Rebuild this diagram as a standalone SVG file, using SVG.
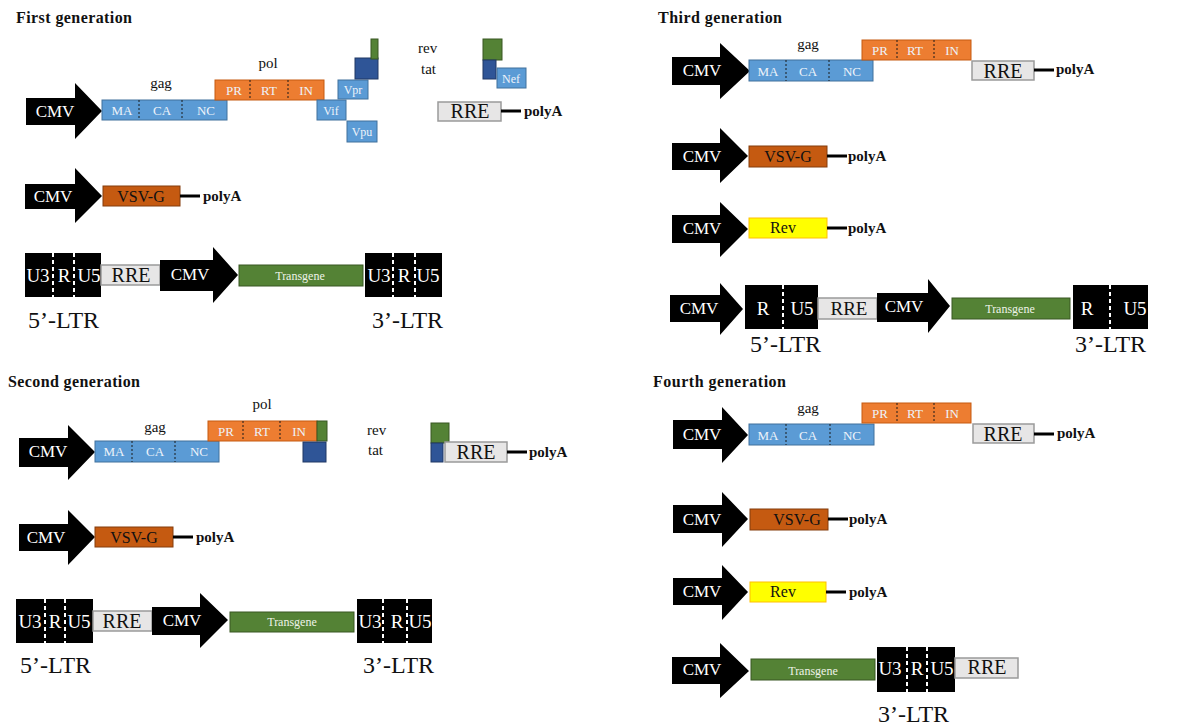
<svg xmlns="http://www.w3.org/2000/svg" width="1180" height="725" viewBox="0 0 1180 725">
<style>
text{font-family:"Liberation Serif","Times New Roman",serif}
.title{font-size:16px;font-weight:bold;fill:#111}
.lbl{font-size:15px;fill:#111}
.pa{font-size:15px;font-weight:bold;fill:#111}
.cmv{font-size:17px;fill:#fff;text-anchor:middle}
.sm{font-size:13px;fill:#eef3fa;text-anchor:middle}
.xs{font-size:12px;fill:#eef3fa;text-anchor:middle}
.ltrt{font-size:19px;fill:#fff;text-anchor:middle}
.rret{font-size:20px;fill:#111;text-anchor:middle}
.tgt{font-size:12px;fill:#eef3e8;text-anchor:middle}
.vt{font-size:16px;fill:#111;text-anchor:middle}
.big{font-size:24px;fill:#111}
.blue{fill:#5b9bd5;stroke:#41719c;stroke-width:1}
.orange{fill:#ed7d31;stroke:#c55a11;stroke-width:1}
.green{fill:#548235;stroke:#385723;stroke-width:1}
.dblue{fill:#2f5597;stroke:#203864;stroke-width:1}
.vsv{fill:#c55a11;stroke:#843c0c;stroke-width:1}
.rev{fill:#ffff00;stroke:#ffc000;stroke-width:1}
.rre{fill:#e7e6e6;stroke:#9a9a9a;stroke-width:1.5}
.blk{fill:#000}
.dv{stroke:#1a1a1a;stroke-width:1;stroke-dasharray:2 2}
.wdv{stroke:#fff;stroke-width:2;stroke-dasharray:4 3}
.con{stroke:#000;stroke-width:3}
</style>

<!-- Titles -->
<text class="title" x="16" y="23" textLength="116">First generation</text>
<text class="title" x="8" y="387" textLength="132">Second generation</text>
<text class="title" x="658" y="23" textLength="124">Third generation</text>
<text class="title" x="653" y="387" textLength="133">Fourth generation</text>

<!-- ============ FIRST GENERATION ============ -->
<g id="g1-cmv1"><path class="blk" d="M26,98H75V83L102,111L75,139V125H26Z"/><text class="cmv" x="55" y="117">CMV</text></g>
<g id="g1-gag"><rect class="blue" x="102" y="100" width="125" height="20"/><line class="dv" x1="139" y1="100" x2="139" y2="120"/><line class="dv" x1="182" y1="100" x2="182" y2="120"/>
<text class="sm" x="122" y="115">MA</text><text class="sm" x="162" y="115">CA</text><text class="sm" x="206" y="115">NC</text>
<text class="lbl" x="161" y="88" text-anchor="middle">gag</text></g>
<g id="g1-pol"><rect class="orange" x="215" y="80" width="109" height="20"/><line class="dv" x1="250" y1="80" x2="250" y2="100"/><line class="dv" x1="288" y1="80" x2="288" y2="100"/>
<text class="sm" x="234" y="95">PR</text><text class="sm" x="269" y="95">RT</text><text class="sm" x="306" y="95">IN</text>
<text class="lbl" x="268" y="68" text-anchor="middle">pol</text></g>
<g id="g1-vpr"><rect class="blue" x="338" y="80" width="30" height="19"/><text class="xs" x="353" y="94">Vpr</text></g>
<g id="g1-vif"><rect class="blue" x="317" y="100" width="29" height="20"/><text class="xs" x="331" y="115">Vif</text></g>
<g id="g1-vpu"><rect class="blue" x="347" y="121" width="30" height="21"/><text class="xs" x="362" y="136">Vpu</text></g>
<g id="g1-tat-a"><rect class="dblue" x="355" y="58" width="23" height="21"/></g>
<g id="g1-rev-a"><rect class="green" x="371" y="39" width="7" height="20"/></g>
<text class="lbl" x="418" y="53">rev</text>
<text class="lbl" x="421" y="74">tat</text>
<g id="g1-rev-b"><rect class="green" x="483" y="39" width="19" height="21"/></g>
<g id="g1-tat-b"><rect class="dblue" x="483" y="60" width="13" height="19"/></g>
<g id="g1-nef"><rect class="blue" x="497" y="68" width="29" height="20"/><text class="xs" x="511" y="83">Nef</text></g>
<g id="g1-rre"><rect class="rre" x="438" y="102" width="63" height="19"/><text class="rret" x="470" y="118">RRE</text></g>
<g id="g1-polyA1"><text class="pa" x="524" y="116">polyA</text></g>

<g id="g1-cmv2"><path class="blk" d="M25,184H75V168L102,196L75,223V209H25Z"/><text class="cmv" x="53" y="202">CMV</text></g>
<g id="g1-vsvg"><rect class="vsv" x="103" y="186" width="77" height="20"/><text class="vt" x="141" y="202">VSV-G</text></g>
<g id="g1-polyA2"><text class="pa" x="203" y="201">polyA</text></g>

<g id="g1-ltr5"><rect class="blk" x="25" y="253" width="76" height="44"/><line class="wdv" x1="53" y1="253" x2="53" y2="297"/><line class="wdv" x1="74" y1="253" x2="74" y2="297"/>
<text class="ltrt" x="38" y="282">U3</text><text class="ltrt" x="64" y="282">R</text><text class="ltrt" x="89" y="282">U5</text></g>
<g id="g1-rre2"><rect class="rre" x="101" y="265" width="59" height="20"/><text class="rret" x="131" y="282">RRE</text></g>
<g id="g1-cmv3"><path class="blk" d="M160,260H213V247L238,275L213,303V291H160Z"/><text class="cmv" x="190" y="280">CMV</text></g>
<g id="g1-tg"><rect class="green" x="239" y="265" width="124" height="21"/><text class="tgt" x="300" y="280">Transgene</text></g>
<g id="g1-ltr3"><rect class="blk" x="365" y="253" width="77" height="44"/><line class="wdv" x1="393" y1="253" x2="393" y2="297"/><line class="wdv" x1="415" y1="253" x2="415" y2="297"/>
<text class="ltrt" x="379" y="282">U3</text><text class="ltrt" x="404" y="282">R</text><text class="ltrt" x="428" y="282">U5</text></g>
<text class="big" x="28" y="328">5’-LTR</text>
<text class="big" x="372" y="328">3’-LTR</text>

<!-- ============ SECOND GENERATION ============ -->
<g id="g2-cmv1"><path class="blk" d="M19,438H68V425L95,452L68,480V467H19Z"/><text class="cmv" x="48" y="457">CMV</text></g>
<g id="g2-gag"><rect class="blue" x="95" y="441" width="124" height="21"/><line class="dv" x1="132" y1="441" x2="132" y2="462"/><line class="dv" x1="175" y1="441" x2="175" y2="462"/>
<text class="sm" x="114" y="456">MA</text><text class="sm" x="155" y="456">CA</text><text class="sm" x="199" y="456">NC</text>
<text class="lbl" x="155" y="432" text-anchor="middle">gag</text></g>
<g id="g2-pol"><rect class="orange" x="208" y="421" width="109" height="20"/><line class="dv" x1="243" y1="421" x2="243" y2="441"/><line class="dv" x1="280" y1="421" x2="280" y2="441"/>
<text class="sm" x="226" y="436">PR</text><text class="sm" x="262" y="436">RT</text><text class="sm" x="299" y="436">IN</text>
<text class="lbl" x="262" y="409" text-anchor="middle">pol</text></g>
<g id="g2-rev-a"><rect class="green" x="317" y="421" width="10" height="20"/></g>
<g id="g2-tat-a"><rect class="dblue" x="303" y="442" width="23" height="20"/></g>
<text class="lbl" x="367" y="435">rev</text>
<text class="lbl" x="368" y="455">tat</text>
<g id="g2-rev-b"><rect class="green" x="431" y="423" width="18" height="20"/></g>
<g id="g2-tat-b"><rect class="dblue" x="431" y="443" width="12" height="19"/></g>
<g id="g2-rre"><rect class="rre" x="445" y="442" width="62" height="20"/><text class="rret" x="476" y="459">RRE</text></g>
<g id="g2-polyA1"><text class="pa" x="529" y="457">polyA</text></g>

<g id="g2-cmv2"><path class="blk" d="M19,524H68V510L95,537L68,565V551H19Z"/><text class="cmv" x="46" y="543">CMV</text></g>
<g id="g2-vsvg"><rect class="vsv" x="95" y="527" width="78" height="20"/><text class="vt" x="134" y="543">VSV-G</text></g>
<g id="g2-polyA2"><text class="pa" x="196" y="542">polyA</text></g>

<g id="g2-ltr5"><rect class="blk" x="16" y="599" width="77" height="44"/><line class="wdv" x1="45" y1="599" x2="45" y2="643"/><line class="wdv" x1="65" y1="599" x2="65" y2="643"/>
<text class="ltrt" x="30" y="628">U3</text><text class="ltrt" x="55" y="628">R</text><text class="ltrt" x="79" y="628">U5</text></g>
<g id="g2-rre2"><rect class="rre" x="93" y="611" width="59" height="20"/><text class="rret" x="122" y="628">RRE</text></g>
<g id="g2-cmv3"><path class="blk" d="M152,607H200V593L228,620L200,648V635H152Z"/><text class="cmv" x="182" y="626">CMV</text></g>
<g id="g2-tg"><rect class="green" x="230" y="612" width="124" height="20"/><text class="tgt" x="292" y="626">Transgene</text></g>
<g id="g2-ltr3"><rect class="blk" x="357" y="599" width="75" height="44"/><line class="wdv" x1="383" y1="599" x2="383" y2="643"/><line class="wdv" x1="407" y1="599" x2="407" y2="643"/>
<text class="ltrt" x="370" y="628">U3</text><text class="ltrt" x="397" y="628">R</text><text class="ltrt" x="420" y="628">U5</text></g>
<text class="big" x="20" y="673">5’-LTR</text>
<text class="big" x="363" y="673">3’-LTR</text>

<!-- ============ THIRD GENERATION ============ -->
<g id="g3-cmv1"><path class="blk" d="M672,57H720V43L750,71L720,99V85H672Z"/><text class="cmv" x="702" y="76">CMV</text></g>
<g id="g3-gag"><rect class="blue" x="749" y="60" width="124" height="21"/><line class="dv" x1="786" y1="60" x2="786" y2="81"/><line class="dv" x1="829" y1="60" x2="829" y2="81"/>
<text class="sm" x="768" y="76">MA</text><text class="sm" x="808" y="76">CA</text><text class="sm" x="852" y="76">NC</text>
<text class="lbl" x="808" y="49" text-anchor="middle">gag</text></g>
<g id="g3-pol"><rect class="orange" x="862" y="40" width="109" height="20"/><line class="dv" x1="897" y1="40" x2="897" y2="60"/><line class="dv" x1="934" y1="40" x2="934" y2="60"/>
<text class="sm" x="880" y="55">PR</text><text class="sm" x="915" y="55">RT</text><text class="sm" x="952" y="55">IN</text></g>
<g id="g3-rre"><rect class="rre" x="972" y="61" width="62" height="19"/><text class="rret" x="1003" y="78">RRE</text></g>
<g id="g3-polyA1"><text class="pa" x="1056" y="74">polyA</text></g>

<g id="g3-cmv2"><path class="blk" d="M672,143H720V128L748,156L720,183V170H672Z"/><text class="cmv" x="702" y="162">CMV</text></g>
<g id="g3-vsvg"><rect class="vsv" x="749" y="146" width="78" height="21"/><text class="vt" x="788" y="162">VSV-G</text></g>
<g id="g3-polyA2"><text class="pa" x="848" y="161">polyA</text></g>

<g id="g3-cmv3"><path class="blk" d="M672,215H720V202L748,229L720,257V243H672Z"/><text class="cmv" x="702" y="234">CMV</text></g>
<g id="g3-rev"><rect class="rev" x="749" y="218" width="78" height="20"/><text class="vt" x="783" y="233">Rev</text></g>
<g id="g3-polyA3"><text class="pa" x="848" y="233">polyA</text></g>

<g id="g3-cmv4"><path class="blk" d="M670,295H720V283L743,309L720,335V322H670Z"/><text class="cmv" x="699" y="314">CMV</text></g>
<g id="g3-ltr5"><rect class="blk" x="745" y="285" width="73" height="44"/><line class="wdv" x1="783" y1="285" x2="783" y2="329"/>
<text class="ltrt" x="763" y="315">R</text><text class="ltrt" x="802" y="315">U5</text></g>
<g id="g3-rre2"><rect class="rre" x="818" y="298" width="59" height="21"/><text class="rret" x="849" y="315" style="font-size:19px">RRE</text></g>
<g id="g3-cmv5"><path class="blk" d="M877,293H928V279L950,306L928,333V322H877Z"/><text class="cmv" x="904" y="312">CMV</text></g>
<g id="g3-tg"><rect class="green" x="952" y="298" width="118" height="21"/><text class="tgt" x="1010" y="313">Transgene</text></g>
<g id="g3-ltr3"><rect class="blk" x="1073" y="285" width="75" height="44"/><line class="wdv" x1="1110" y1="285" x2="1110" y2="329"/>
<text class="ltrt" x="1087" y="315">R</text><text class="ltrt" x="1135" y="315">U5</text></g>
<text class="big" x="750" y="352">5’-LTR</text>
<text class="big" x="1075" y="352">3’-LTR</text>

<!-- ============ FOURTH GENERATION ============ -->
<g id="g4-cmv1"><path class="blk" d="M673,420H722V407L748,435L722,463V449H673Z"/><text class="cmv" x="702" y="440">CMV</text></g>
<g id="g4-gag"><rect class="blue" x="749" y="424" width="125" height="21"/><line class="dv" x1="786" y1="424" x2="786" y2="445"/><line class="dv" x1="830" y1="424" x2="830" y2="445"/>
<text class="sm" x="768" y="440">MA</text><text class="sm" x="808" y="440">CA</text><text class="sm" x="852" y="440">NC</text>
<text class="lbl" x="808" y="413" text-anchor="middle">gag</text></g>
<g id="g4-pol"><rect class="orange" x="862" y="403" width="109" height="20"/><line class="dv" x1="897" y1="403" x2="897" y2="423"/><line class="dv" x1="934" y1="403" x2="934" y2="423"/>
<text class="sm" x="880" y="418">PR</text><text class="sm" x="915" y="418">RT</text><text class="sm" x="952" y="418">IN</text></g>
<g id="g4-rre"><rect class="rre" x="973" y="424" width="61" height="19"/><text class="rret" x="1003" y="441">RRE</text></g>
<g id="g4-polyA1"><text class="pa" x="1057" y="438">polyA</text></g>

<g id="g4-cmv2"><path class="blk" d="M673,505H722V492L748,519L722,547V533H673Z"/><text class="cmv" x="702" y="525">CMV</text></g>
<g id="g4-vsvg"><rect class="vsv" x="750" y="509" width="78" height="21"/><text class="vt" x="797" y="525">VSV-G</text></g>
<g id="g4-polyA2"><text class="pa" x="849" y="524">polyA</text></g>

<g id="g4-cmv3"><path class="blk" d="M673,578H722V565L748,592L722,620V605H673Z"/><text class="cmv" x="702" y="597">CMV</text></g>
<g id="g4-rev"><rect class="rev" x="750" y="582" width="76" height="20"/><text class="vt" x="783" y="597">Rev</text></g>
<g id="g4-polyA3"><text class="pa" x="849" y="597">polyA</text></g>

<g id="g4-cmv4"><path class="blk" d="M672,657H720V643L749,671L720,698V684H672Z"/><text class="cmv" x="702" y="675">CMV</text></g>
<g id="g4-tg"><rect class="green" x="751" y="659" width="124" height="21"/><text class="tgt" x="813" y="675">Transgene</text></g>
<g id="g4-ltr3"><rect class="blk" x="877" y="647" width="78" height="45"/><line class="wdv" x1="907" y1="647" x2="907" y2="692"/><line class="wdv" x1="927" y1="647" x2="927" y2="692"/>
<text class="ltrt" x="890" y="675">U3</text><text class="ltrt" x="917" y="675">R</text><text class="ltrt" x="942" y="675">U5</text></g>
<g id="g4-rre2"><rect class="rre" x="955" y="658" width="63" height="20"/><text class="rret" x="987" y="674">RRE</text></g>
<text class="big" x="878" y="722">3’-LTR</text>

<!-- Connectors -->
<g id="connectors">
<line class="con" x1="501" y1="111" x2="521" y2="111"/>
<line class="con" x1="180" y1="196" x2="200" y2="196"/>
<line class="con" x1="507" y1="452" x2="527" y2="452"/>
<line class="con" x1="173" y1="537" x2="193" y2="537"/>
<line class="con" x1="1034" y1="70" x2="1054" y2="70"/>
<line class="con" x1="827" y1="156" x2="847" y2="156"/>
<line class="con" x1="827" y1="228" x2="847" y2="228"/>
<line class="con" x1="1034" y1="434" x2="1054" y2="434"/>
<line class="con" x1="828" y1="519" x2="848" y2="519"/>
<line class="con" x1="826" y1="592" x2="846" y2="592"/>
</g>
</svg>
